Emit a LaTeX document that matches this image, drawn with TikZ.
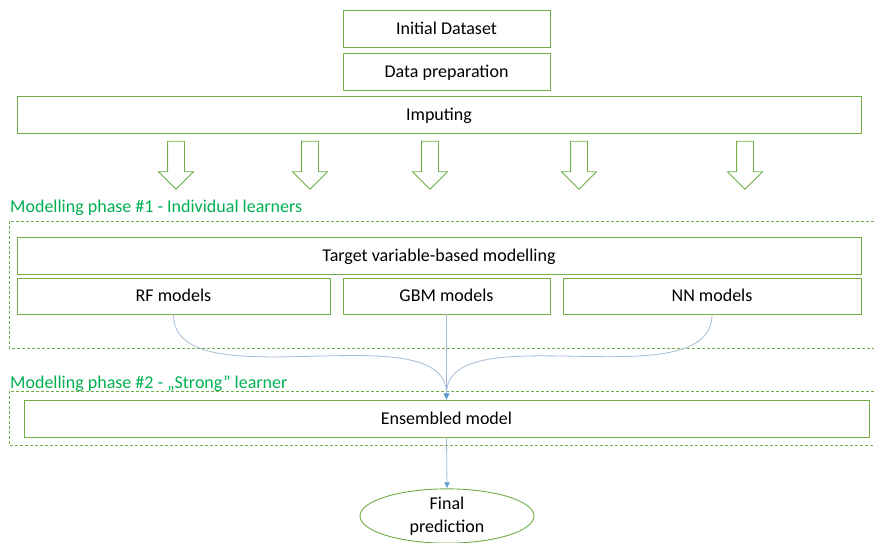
\documentclass[tikz,border=0pt]{standalone}
\usepackage{fontspec}
\setmainfont{Carlito}
\usepackage{xcolor}
\usetikzlibrary{shapes,arrows.meta,positioning,calc}

\definecolor{boxgreen}{RGB}{112,173,71}
\definecolor{phasegreen}{RGB}{0,176,80}
\definecolor{linkblue}{RGB}{165,188,212}
\definecolor{tipblue}{RGB}{91,155,213}

\begin{document}
\begin{tikzpicture}[
    x=1pt, y=-1pt,
    node distance=6pt,
    stage/.style={rectangle, draw=boxgreen, line width=0.9pt, minimum height=37pt, inner sep=0pt, text height=13pt, text depth=2pt, font=\fontsize{18}{21}\selectfont},
    phase/.style={draw=boxgreen, line width=0.8pt, dash pattern=on 3pt off 2pt},
    phaselabel/.style={anchor=west, inner sep=0pt, text=phasegreen, font=\fontsize{18}{21}\selectfont},
    hollow/.style={single arrow, draw=boxgreen, line width=0.8pt, shape border rotate=270, inner sep=8pt, single arrow head extend=9pt, minimum height=48pt},
    link/.style={draw=linkblue, line width=0.8pt, -{Latex[length=6pt, width=6pt, color=tipblue]}}
]
\useasboundingbox (0,0) rectangle (874,542);

% data preparation
\node[stage, minimum width=207pt] (init) at (446.5,28.5) {Initial Dataset};
\node[stage, minimum width=207pt, below=of init] (prep) {Data preparation};
\node[stage, minimum width=844pt] (imp) at (439,115) {Imputing};

\foreach \x [count=\i] in {176,310,430,579,745}
    \node[hollow] (down\i) at (\x,161) {};

% phase 1
\node[phaselabel] (p1) at (10,208) {Modelling phase \#1 - Individual learners};
\draw[phase] (874,221) -- (9,221) -- (9,348) -- (874,348);
\node[stage, minimum width=844pt] (target) at (439,256) {Target variable-based modelling};
\node[stage, minimum width=313pt, minimum height=36pt] (rf) at (173.5,296) {RF models};
\node[stage, minimum width=207pt, minimum height=36pt] (gbm) at (446.5,296) {GBM models};
\node[stage, minimum width=298pt, minimum height=36pt] (nn) at (712,296) {NN models};

% phase 2
\node[phaselabel] (p2) at (10,384) {Modelling phase \#2 - „Strong” learner};
\draw[phase] (874,391) -- (9,391) -- (9,445) -- (874,445);
\node[stage, minimum width=845pt] (ens) at (446.5,418.5) {Ensembled model};

\node[ellipse, draw=boxgreen, line width=0.9pt, minimum width=174pt, minimum height=52pt, inner sep=0pt, align=center, font=\fontsize{18}{23}\selectfont] (final) at (447,516) {Final\\prediction};

\draw[link] (rf.south) to[out=-90, in=90, looseness=0.8] (ens.north);
\draw[link] (nn.south) to[out=-90, in=90, looseness=0.8] (ens.north);
\draw[link] (gbm.south) -- (ens.north);
\draw[link] (ens.south) -- (final.north);

\end{tikzpicture}
\end{document}
